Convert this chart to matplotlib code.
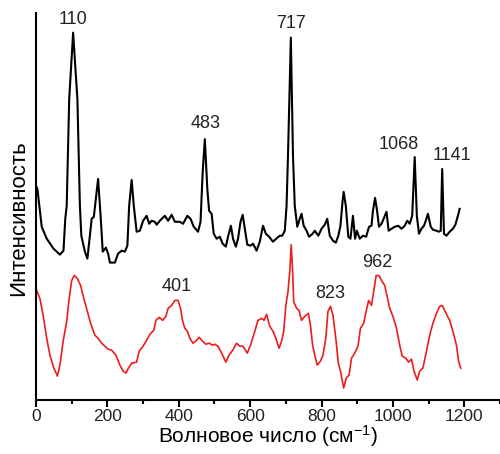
import numpy as np
import matplotlib
matplotlib.use("Agg")
import matplotlib.pyplot as plt
from matplotlib.ticker import MultipleLocator

plt.rcParams['font.family'] = ['Liberation Sans', 'DejaVu Sans']
plt.rcParams['mathtext.fontset'] = 'custom'
plt.rcParams['mathtext.rm'] = 'Liberation Sans'
plt.rcParams['mathtext.default'] = 'rm'

# black spectrum (wavenumber, intensity in arbitrary units)
black_x = [0, 4, 16, 30, 49, 67, 77, 82, 86, 93, 104, 116, 123, 127, 137, 144,
           156, 162, 174, 181, 187, 196, 202, 207, 221, 230, 240, 249, 256, 261,
           268, 274, 282, 291, 300, 310, 317, 324, 333, 338, 347, 361, 370, 380,
           389, 403, 412, 424, 433, 442, 454, 461, 467, 473, 480, 485, 492, 498,
           506, 515, 523, 532, 538, 546, 552, 560, 566, 573, 579, 585, 592, 601,
           608, 618, 627, 636, 644, 653, 664, 673, 683, 690, 697, 702, 706, 714,
           720, 725, 732, 739, 744, 750, 758, 765, 775, 781, 791, 800, 809, 816,
           823, 832, 840, 847, 853, 859, 862, 868, 875, 881, 888, 894, 899, 907,
           916, 925, 933, 940, 944, 950, 956, 961, 968, 974, 982, 988, 996, 1005,
           1015, 1024, 1033, 1040, 1047, 1054, 1061, 1067, 1073, 1080, 1087, 1091,
           1098, 1106, 1112, 1122, 1128, 1134, 1138, 1143, 1150, 1159, 1168, 1175,
           1182, 1187]
black_y = [215, 212, 174, 162, 152, 146, 150, 182, 195, 302, 369, 302, 195, 165, 149, 142,
           182, 184, 222, 185, 149, 153, 147, 138, 138, 147, 150, 149, 155, 195,
           221, 195, 169, 170, 180, 185, 177, 180, 179, 176, 180, 185, 180, 186,
           179, 179, 177, 185, 182, 174, 169, 179, 229, 262, 212, 190, 187, 167,
           162, 164, 157, 154, 164, 175, 162, 154, 162, 179, 186, 172, 156, 155,
           157, 150, 159, 175, 167, 164, 159, 162, 165, 165, 170, 195, 245, 364,
           245, 195, 174, 182, 187, 175, 170, 164, 167, 170, 165, 172, 176, 182,
           165, 160, 158, 165, 175, 200, 209, 195, 164, 162, 185, 162, 170, 162,
           165, 164, 174, 175, 190, 203, 189, 174, 177, 182, 189, 170, 172, 174,
           175, 172, 175, 180, 177, 185, 244, 185, 167, 172, 175, 179,
           187, 174, 171, 170, 169, 170, 232, 167, 165, 169, 172, 176,
           185, 192]

# red spectrum
red_x = [2, 11, 20, 30, 39, 50, 60, 67, 76, 86, 93, 100, 107, 116, 125, 134, 144,
         153, 165, 174, 184, 193, 202, 212, 224, 235, 244, 252, 259, 268, 282, 289,
         300, 310, 319, 330, 336, 345, 355, 364, 370, 380, 389, 398, 405, 411, 417,
         424, 431, 440, 450, 457, 467, 476, 485, 495, 501, 510, 520, 532, 541, 551,
         562, 571, 580, 592, 601, 613, 622, 632, 639, 646, 655, 664, 672, 681, 688,
         694, 700, 706, 711, 715, 719, 722, 730, 737, 744, 753, 763, 769, 775, 781,
         788, 797, 804, 812, 818, 825, 832, 840, 847, 853, 862, 869, 877, 884, 893,
         902, 909, 918, 925, 932, 940, 946, 953, 961, 968, 977, 983, 991, 1000, 1010,
         1019, 1026, 1036, 1044, 1052, 1059, 1068, 1075, 1084, 1094, 1103, 1112,
         1122, 1131, 1138, 1145, 1153, 1159, 1168, 1178, 1184, 1190]
red_y = [110, 102, 85, 62, 45, 32, 24, 35, 59, 79, 102, 120, 125, 122, 115, 102, 89,
         77, 65, 62, 57, 54, 51, 50, 45, 35, 29, 27, 32, 37, 38, 49,
         54, 60, 66, 70, 80, 83, 80, 84, 92, 95, 100, 100, 92, 79, 72,
         69, 62, 57, 60, 63, 59, 56, 57, 55, 56, 54, 47, 38, 45, 50,
         57, 54, 54, 47, 55, 69, 80, 82, 80, 86, 74, 69, 62, 52, 59,
         69, 95, 109, 129, 156, 129, 99, 92, 90, 80, 84, 87, 75, 55, 45,
         35, 39, 45, 62, 89, 94, 85, 62, 37, 29, 12, 22, 25, 42, 47,
         54, 72, 77, 89, 100, 95, 109, 125, 125, 120, 115, 105, 92, 84, 72,
         55, 44, 42, 38, 41, 29, 20, 29, 32, 49, 65, 77,
         87, 94, 95, 90, 84, 80, 69, 55, 39, 32]

# peak labels: text, peak position, label offset in pixels
black_labels = ["110", "483", "717", "1068", "1141"]
black_peaks = [104, 473, 714, 1061, 1138]
black_offsets = [(0, 5), (1, 7), (0, 6), (-16, 4), (10, 5)]

red_labels = ["401", "823", "962"]
red_peaks = [395, 825, 955]
red_offsets = [(0, 5), (0, 4), (0, 5)]

fig = plt.figure(figsize=(5.0, 4.54), dpi=100)
ax = fig.add_axes([0.072, 0.119, 0.928, 0.853])

ax.plot(black_x, black_y, color='black', lw=1.5)
ax.plot(red_x, red_y, color='#ee1c1c', lw=1.2)

px_to_pt = 72.0 / fig.dpi
for lab, xp, (dx, dy) in zip(black_labels, black_peaks, black_offsets):
    yp = np.interp(xp, black_x, black_y)
    ax.annotate(lab, (xp, yp), xytext=(dx * px_to_pt, dy * px_to_pt),
                textcoords='offset points', ha='center', va='bottom',
                fontsize=13, color='#222222')
for lab, xp, (dx, dy) in zip(red_labels, red_peaks, red_offsets):
    yp = np.interp(xp, red_x, red_y)
    ax.annotate(lab, (xp, yp), xytext=(dx * px_to_pt, dy * px_to_pt),
                textcoords='offset points', ha='center', va='bottom',
                fontsize=13, color='#222222')

ax.set_xlim(0, 1300)
ax.set_ylim(0, 389)
ax.xaxis.set_major_locator(MultipleLocator(200))
ax.xaxis.set_minor_locator(MultipleLocator(100))
ax.set_xticks([0, 200, 400, 600, 800, 1000, 1200])
ax.set_yticks([])
ax.tick_params(axis='x', which='major', length=5, width=1.5, labelsize=12.5,
               labelcolor='#222222', pad=1.5)
ax.tick_params(axis='x', which='minor', length=3, width=1.5)

for s in ['top', 'right']:
    ax.spines[s].set_visible(False)
for s in ['left', 'bottom']:
    ax.spines[s].set_linewidth(1.5)

ax.set_xlabel('Волновое число (см$^{-1}$)', fontsize=15, labelpad=-0.5)
ax.set_ylabel('Интенсивность', fontsize=16, labelpad=5)
ax.yaxis.label.set_y(0.47)

fig.savefig('out.png', dpi=100)
